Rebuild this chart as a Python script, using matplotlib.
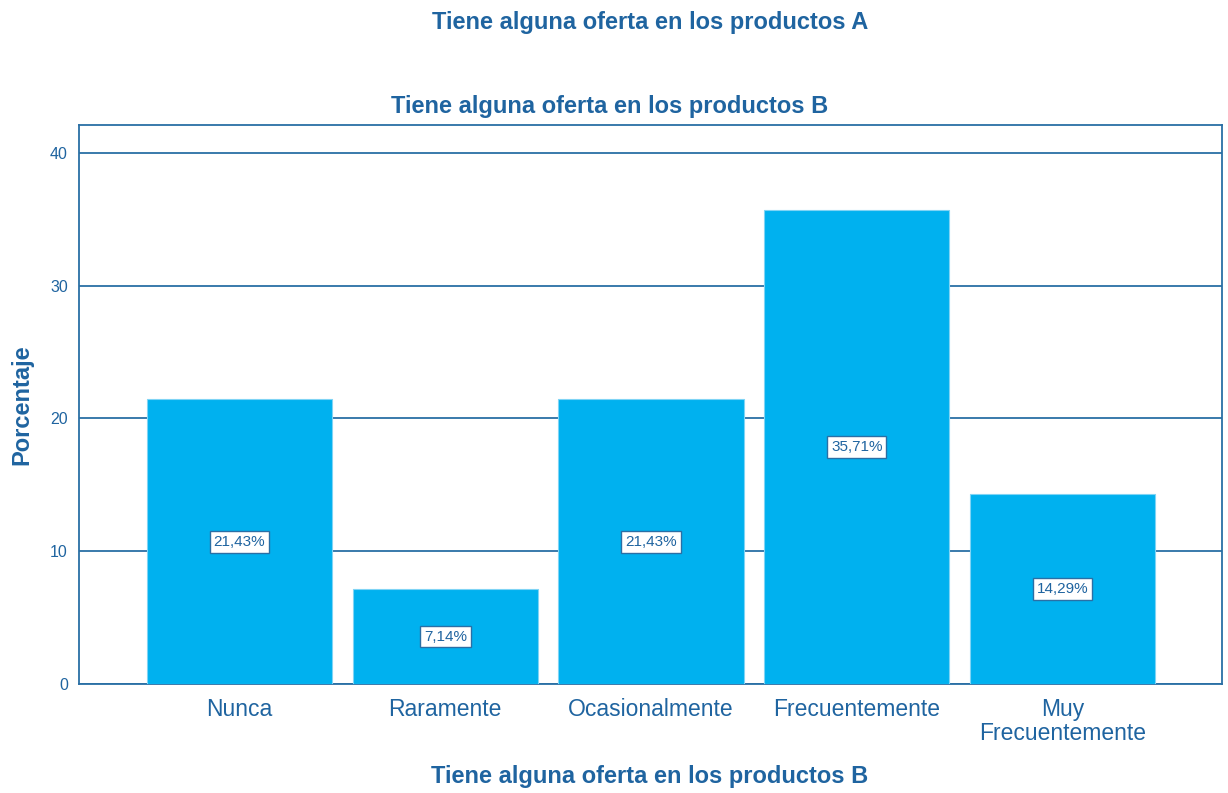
import matplotlib.pyplot as plt
import numpy as np

categories = ["Nunca", "Raramente", "Ocasionalmente", "Frecuentemente", "Muy\nFrecuentemente"]
percentages = [21.43, 7.14, 21.43, 35.71, 14.29]
y_ticks = [0, 10, 20, 30, 40]

BAR_COLOR = "#00B1EF"
LINE_COLOR = "#2A6FA5"
TEXT_COLOR = "#1F64A0"

plt.rcParams["font.family"] = ["Liberation Sans", "DejaVu Sans"]

fig = plt.figure(figsize=(12.28, 7.93), dpi=100)
ax = fig.add_axes([79 / 1228, 1 - 684 / 793, (1222 - 79) / 1228, (684 - 125) / 793])

x = np.arange(len(categories))
ax.bar(x, percentages, width=0.9, color=BAR_COLOR, edgecolor="#7FD4F5", linewidth=0.8, zorder=3)

# value labels in the middle of each bar
for xi, v in zip(x, percentages):
    label = f"{v:.2f}".replace(".", ",") + "%"
    ax.text(xi, v / 2, label, ha="center", va="center", fontsize=11, color=TEXT_COLOR, zorder=4,
            bbox=dict(boxstyle="square,pad=0.25", facecolor="white", edgecolor=LINE_COLOR, linewidth=1))

ax.set_xlim(-0.78, 4.775)
ax.set_ylim(0, 42.1)
ax.set_yticks(y_ticks)
ax.set_yticklabels([str(t) for t in y_ticks], fontsize=11.5, color=TEXT_COLOR)
ax.set_xticks(x)
ax.set_xticklabels(categories, fontsize=16.5, color=TEXT_COLOR, linespacing=1.05)
ax.tick_params(axis="x", length=0, pad=10)
ax.tick_params(axis="y", length=0, pad=8)

ax.yaxis.grid(True, color=LINE_COLOR, linewidth=1.3, zorder=1)
ax.set_axisbelow(True)
for spine in ax.spines.values():
    spine.set_color(LINE_COLOR)
    spine.set_linewidth(1.3)

ax.set_ylabel("Porcentaje", fontsize=17, fontweight="bold", color=TEXT_COLOR, labelpad=12)

fig.text(650 / 1228, 1 - 22 / 793, "Tiene alguna oferta en los productos A", ha="center", va="center",
         fontsize=17, fontweight="bold", color=TEXT_COLOR)
fig.text(610 / 1228, 1 - 106 / 793, "Tiene alguna oferta en los productos B", ha="center", va="center",
         fontsize=17, fontweight="bold", color=TEXT_COLOR)
fig.text(650 / 1228, 1 - 777 / 793, "Tiene alguna oferta en los productos B", ha="center", va="center",
         fontsize=17, fontweight="bold", color=TEXT_COLOR)

fig.savefig("out.png", dpi=100)
